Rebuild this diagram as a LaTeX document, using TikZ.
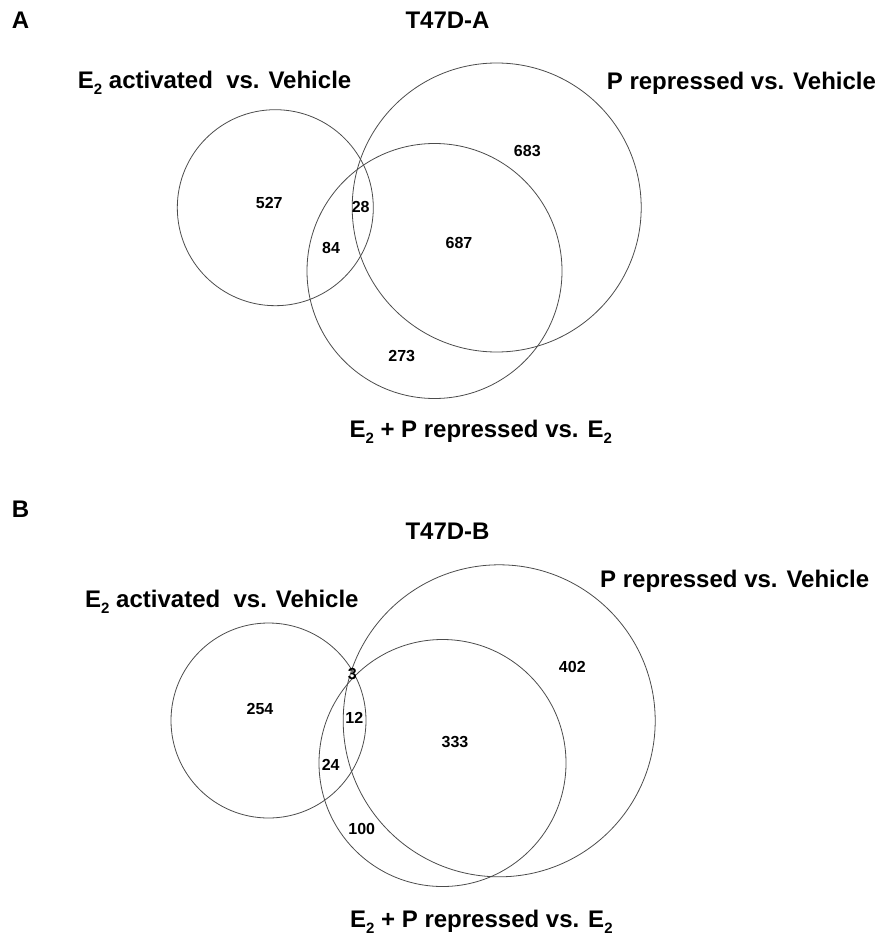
\documentclass[tikz,border=0pt]{standalone}
\usepackage{fontspec}
\setmainfont{Liberation Sans}
\newcommand{\Esub}{E\raisebox{-6pt}{\fontsize{15}{15}\selectfont 2}}
\tikzset{
  venn/.style={circle, draw=black!70, line width=0.8pt, inner sep=0pt},
  num/.style={inner sep=0pt, font=\fontsize{16}{16}\selectfont\bfseries},
  ttl/.style={inner sep=0pt, font=\fontsize{24}{28}\selectfont\bfseries},
}
\begin{document}
\begin{tikzpicture}[x=1pt,y=-1pt]
\useasboundingbox (0,0) rectangle (879,936);
% Panel A
\node[ttl, anchor=base west] (lA) at (11.7,28.6) {A};
\node[ttl, anchor=base] (tA) at (447.5,28.6) {T47D-A};
\node[ttl, anchor=base west] (eA) at (77.7,88.3) {\Esub\ activated \ vs. Vehicle};
\node[ttl, anchor=base west] (pA) at (606.7,89.3) {P repressed vs. Vehicle};
\node[ttl, anchor=base west] (epA) at (349.3,437.6) {\Esub\ + P repressed vs. \Esub};
\node[venn, minimum size=196pt] (a1) at (275.3,207.7) {};
\node[venn, minimum size=289pt] (a2) at (496.7,207.5) {};
\node[venn, minimum size=255pt] (a3) at (434.5,271) {};
\node[num] (n527) at (269.3,202.7) {527};
\node[num] (n28) at (360.7,207.3) {28};
\node[num] (n84) at (331,248.3) {84};
\node[num] (n687) at (459,243.3) {687};
\node[num] (n683) at (527.3,150.7) {683};
\node[num] (n273) at (401.7,356) {273};
% Panel B
\node[ttl, anchor=base west] (lB) at (11.7,517) {B};
\node[ttl, anchor=base] (tB) at (447.5,539) {T47D-B};
\node[ttl, anchor=base west] (eB) at (85,607.4) {\Esub\ activated \ vs. Vehicle};
\node[ttl, anchor=base west] (pB) at (600,587.6) {P repressed vs. Vehicle};
\node[ttl, anchor=base west] (epB) at (350,927.6) {\Esub\ + P repressed vs. \Esub};
\node[venn, minimum size=195pt] (b1) at (268.5,720.5) {};
\node[venn, minimum size=312pt] (b2) at (499.2,720.8) {};
\node[venn, minimum size=247pt] (b3) at (442.5,763) {};
\node[num] (n254) at (260,709) {254};
\node[num] (n3) at (352.3,674.3) {3};
\node[num] (n12) at (354.3,718.3) {12};
\node[num] (n24) at (330.7,765) {24};
\node[num] (n333) at (455,742.3) {333};
\node[num] (n402) at (572.3,666.7) {402};
\node[num] (n100) at (361.7,829.3) {100};
\end{tikzpicture}
\end{document}
